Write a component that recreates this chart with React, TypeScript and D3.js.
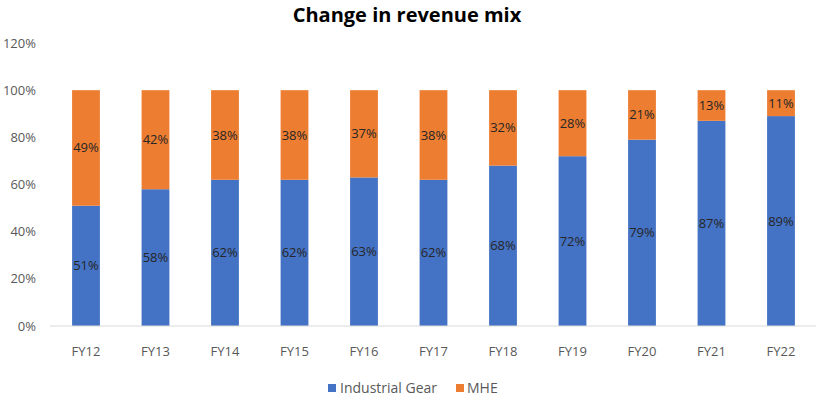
import React from "react";
import * as d3 from "d3";

const categories = ["FY12", "FY13", "FY14", "FY15", "FY16", "FY17", "FY18", "FY19", "FY20", "FY21", "FY22"];
const industrialGear = [51, 58, 62, 62, 63, 62, 68, 72, 79, 87, 89];
const mhe = [49, 42, 38, 38, 37, 38, 32, 28, 21, 13, 11];
const yTicks = [0, 20, 40, 60, 80, 100, 120];
const seriesNames = ["Industrial Gear", "MHE"];
const colors = ["#4472C4", "#ED7D31"];

export default function App() {
  const W = 819, H = 397;
  const x = d3.scaleBand<string>().domain(categories).range([51.25, 815.75]).paddingInner(0.6).paddingOuter(0.3);
  const y = d3.scaleLinear().domain([0, 120]).range([326, 43]);
  const font = "'Open Sans', sans-serif";
  return (
    <svg width={W} height={H} style={{ position: "absolute", left: 0, top: 0, fontFamily: font }}>
      <rect width={W} height={H} fill="#fff" />
      <text x={407} y={22} textAnchor="middle" fontSize={20} fontWeight="bold" fill="#000">Change in revenue mix</text>
      {yTicks.map(t => (
        <text key={t} x={36} y={y(t)} dy="0.35em" textAnchor="end" fontSize={13} fill="#595959">{t}%</text>
      ))}
      {categories.map((c, i) => {
        const x0 = x(c)!;
        const bw = x.bandwidth();
        const g = industrialGear[i], m = mhe[i];
        return (
          <g key={c}>
            <rect x={x0} y={y(g)} width={bw} height={y(0) - y(g)} fill={colors[0]} />
            <rect x={x0} y={y(g + m)} width={bw} height={y(g) - y(g + m)} fill={colors[1]} />
            <text x={x0 + bw / 2} y={(y(0) + y(g)) / 2} dy="0.35em" textAnchor="middle" fontSize={13} fill="#262626">{g}%</text>
            <text x={x0 + bw / 2} y={(y(g) + y(g + m)) / 2} dy="0.35em" textAnchor="middle" fontSize={13} fill="#262626">{m}%</text>
            <text x={x0 + bw / 2} y={351} dy="0.35em" textAnchor="middle" fontSize={13} fill="#595959">{c}</text>
          </g>
        );
      })}
      <line x1={50} x2={816} y1={y(0)} y2={y(0)} stroke="#d9d9d9" strokeWidth={1} />
      <g>
        <rect x={328} y={384} width={8} height={8} fill={colors[0]} />
        <text x={340} y={388} dy="0.35em" fontSize={14} fill="#595959">{seriesNames[0]}</text>
        <rect x={456} y={384} width={8} height={8} fill={colors[1]} />
        <text x={467} y={388} dy="0.35em" fontSize={14} fill="#595959">{seriesNames[1]}</text>
      </g>
    </svg>
  );
}
